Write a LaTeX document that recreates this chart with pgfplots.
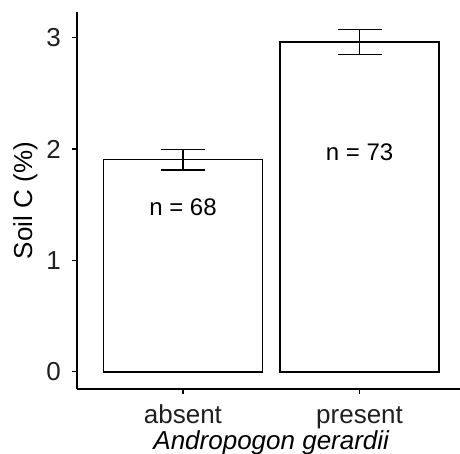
\documentclass[border=0pt]{standalone}
\usepackage{pgfplots}
\pgfplotsset{compat=1.18}
\usepackage{fontspec}
\setmainfont{Liberation Sans}
\begin{document}
\fontsize{24bp}{28bp}\selectfont
\begin{tikzpicture}
\path[use as bounding box] (0,0) rectangle (460bp,454bp);
\begin{axis}[
  at={(77bp,65bp)}, anchor=south west,
  scale only axis, width=388.5bp, height=377bp,
  xmin=0.4, xmax=2.6, ymin=-0.154, ymax=3.229,
  axis lines=left, axis line style={-, line width=1.4bp, black},
  xtick={1,2}, xticklabels={absent,present},
  ytick={0,1,2,3},
  tick align=outside, major tick length=5bp,
  tick style={line width=1.2bp, black},
  /pgf/number format/assume math mode=true,
  yticklabel style={anchor=east, inner sep=0pt, xshift=-11bp, text=black!88, font=\fontsize{26bp}{30bp}\selectfont},
  xticklabel style={anchor=north, inner sep=0pt, text height=18bp, text depth=4bp, yshift=-11bp, text=black!88, font=\fontsize{26bp}{30bp}\selectfont},
  xlabel={\itshape Andropogon gerardii},
  xlabel style={at={(axis description cs:0.5,-0.1605)}, anchor=base, inner sep=0pt, font=\fontsize{26bp}{30bp}\selectfont},
  ylabel={Soil C (\%)},
  ylabel style={at={(axis description cs:-0.1158,0.5)}, anchor=base, inner sep=0pt, rotate=0, font=\fontsize{26bp}{30bp}\selectfont},
  clip=false,
]
\addplot[ybar, bar width=0.9, fill=white, draw=black, line width=1.6bp,
  error bars/.cd, y dir=both, y explicit,
  error bar style={line width=1.5bp, black},
  error mark options={black, rotate=90, mark size=22bp, line width=1.5bp}]
  coordinates {(1,1.905) +- (0,0.092) (2,2.959) +- (0,0.112)};
\node[font=\fontsize{24bp}{28bp}\selectfont] at (axis cs:1,1.48) {n = 68};
\node[font=\fontsize{24bp}{28bp}\selectfont] at (axis cs:2,1.97) {n = 73};
\end{axis}
\end{tikzpicture}
\end{document}
